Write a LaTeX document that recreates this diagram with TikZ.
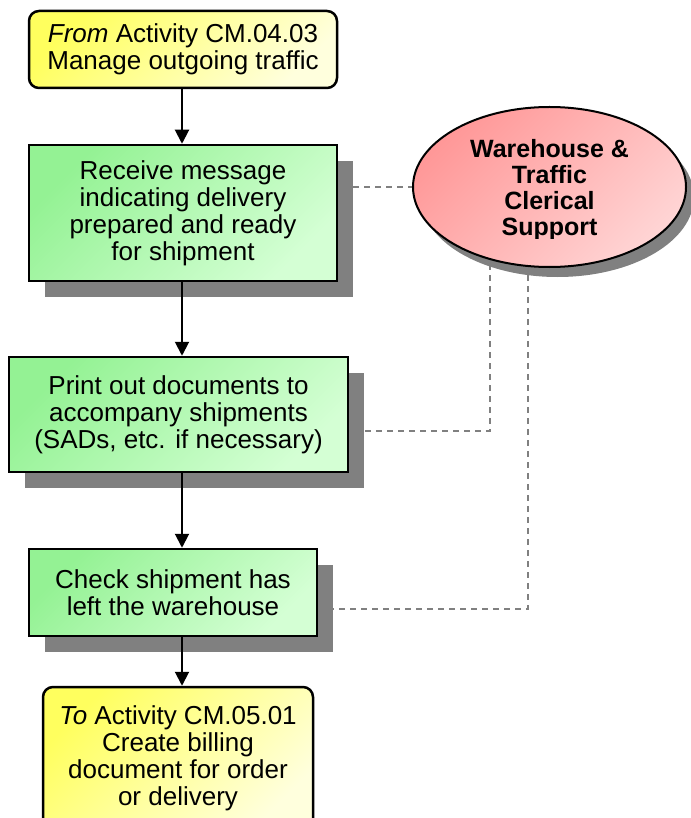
\documentclass[tikz,border=0pt]{standalone}
\usepackage{fontspec}
\setmainfont{Liberation Sans}
\usetikzlibrary{arrows.meta,shapes.geometric,backgrounds}
\definecolor{grnA}{HTML}{94F294}
\definecolor{grnB}{HTML}{D4FFD4}
\definecolor{ylwA}{HTML}{FFFF5E}
\definecolor{ylwB}{HTML}{FFFFDD}
\definecolor{pnkA}{HTML}{FF9898}
\definecolor{pnkB}{HTML}{FFD4D4}
\definecolor{shd}{HTML}{808080}
\definecolor{dsh}{HTML}{808080}
\begin{document}
\begin{tikzpicture}[x=1pt,y=-1pt,
  txt/.style={font=\fontsize{26}{27}\selectfont, align=center, text=black, inner sep=0pt},
  actbox/.style={txt, rectangle, draw=black, line width=2.5pt, top color=grnA, bottom color=grnB, shading angle=45},
  linkbox/.style={txt, rectangle, rounded corners=10pt, draw=black, line width=2.5pt, top color=ylwA, bottom color=ylwB, shading angle=45},
  shadowbox/.style={rectangle, fill=shd, draw=none, inner sep=0pt},
  flow/.style={line width=2pt, -{Triangle[width=14pt,length=14pt]}},
  conn/.style={draw=dsh, line width=2pt, dash pattern=on 6pt off 5pt}]
\useasboundingbox (0,0) rectangle (690,818);
\coordinate (ax) at (182,0);
\coordinate (k1) at (490,0);
\coordinate (k2) at (528,0);

% box 1
\node[linkbox, minimum width=308pt, minimum height=77pt] (b1) at (183,49.5)
  {\textit{From} Activity CM.04.03\\Manage outgoing traffic};

% box 2
\node[shadowbox, minimum width=308pt, minimum height=136pt] (s2) at (199,229) {};
\node[actbox, minimum width=308pt, minimum height=136pt] (b2) at (183,213)
  {Receive message\\indicating delivery\\prepared and ready\\for shipment};

% box 3
\node[shadowbox, minimum width=339pt, minimum height=115pt] (s3) at (194.5,430.5) {};
\node[actbox, minimum width=339pt, minimum height=115pt] (b3) at (178.5,414.5)
  {Print out documents to\\accompany shipments\\(SADs, etc. if necessary)};

% box 4
\node[shadowbox, minimum width=288pt, minimum height=87pt] (s4) at (189,608.5) {};
\node[actbox, minimum width=288pt, minimum height=87pt] (b4) at (173,592.5)
  {Check shipment has\\left the warehouse};

% box 5
\node[linkbox, minimum width=270pt, minimum height=143pt] (b5) at (178,758.5)
  {\textit{To} Activity CM.05.01\\Create billing\\document for order\\or delivery};

% ellipse
\node[ellipse, fill=shd, draw=none, minimum width=273pt, minimum height=160pt, inner sep=0pt] (whs) at (557.5,197) {};
\node[ellipse, draw=black, line width=2pt, top color=pnkA, bottom color=pnkB, shading angle=45,
      minimum width=273pt, minimum height=160pt, inner sep=0pt] (wh) at (549.5,187) {};
\begin{scope}
\clip (400,100) rectangle (690,238.5);
\node[font=\bfseries\fontsize{25}{26}\selectfont, align=center, inner sep=0pt] (wht) at (549.5,190)
  {Warehouse \&\\Traffic\\Clerical\\Support};
\end{scope}

% flow arrows
\draw[flow] (b1.south -| ax) -- (b2.north -| ax);
\draw[flow] (b2.south -| ax) -- (b3.north -| ax);
\draw[flow] (b3.south -| ax) -- (b4.north -| ax);
\draw[flow] (b4.south -| ax) -- (b5.north -| ax);

% dashed links
\begin{pgfonlayer}{background}
\draw[conn] (s2.east |- wh.west) -- (wh.west);
\draw[conn] (wh.center -| k1) |- (s3.east);
\draw[conn] (wh.center -| k2) |- (s4.east);
\end{pgfonlayer}
\end{tikzpicture}
\end{document}
